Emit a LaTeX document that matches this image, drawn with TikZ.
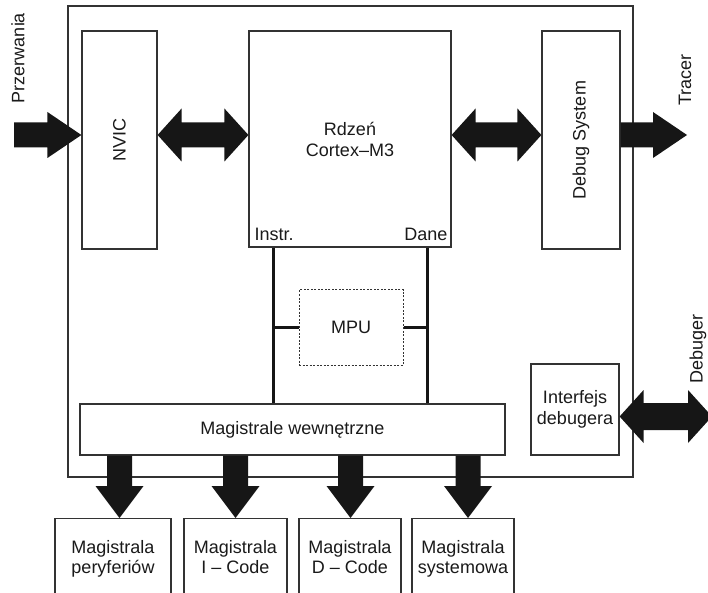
\documentclass[tikz,border=0pt]{standalone}
\usepackage{fontspec}
\setmainfont{Liberation Sans}
\usetikzlibrary{calc}
\definecolor{ln}{HTML}{333333}
\definecolor{fatc}{HTML}{161616}
\definecolor{txt}{HTML}{1A1A1A}
\newcommand\twolines[2]{\begin{tabular}[t]{@{}c@{}}#1\\#2\end{tabular}}
% horizontal double arrow: start, end, shaft half, head half (head length 24)
\newcommand\fatdbl[4]{%
 \fill[fat] let \p1=#1, \p2=#2 in
 (\x1,\y1) -- (\x1+24pt,\y1+#4pt) -- (\x1+24pt,\y1+#3pt) -- (\x2-24pt,\y1+#3pt)
 -- (\x2-24pt,\y1+#4pt) -- (\x2,\y1) -- (\x2-24pt,\y1-#4pt) -- (\x2-24pt,\y1-#3pt)
 -- (\x1+24pt,\y1-#3pt) -- (\x1+24pt,\y1-#4pt) -- cycle;}
% right arrow: start, end, shaft half, head half, head length
\newcommand\fatright[5]{%
 \fill[fat] let \p1=#1, \p2=#2 in
 (\x1,\y1+#3pt) -- (\x2-#5pt,\y1+#3pt) -- (\x2-#5pt,\y1+#4pt) -- (\x2,\y1)
 -- (\x2-#5pt,\y1-#4pt) -- (\x2-#5pt,\y1-#3pt) -- (\x1,\y1-#3pt) -- cycle;}
% down arrow: start, end, shaft half, head half, head length
\newcommand\fatdown[5]{%
 \fill[fat] let \p1=#1, \p2=#2 in
 (\x1-#3pt,\y1) -- (\x1-#3pt,\y2+#5pt) -- (\x1-#4pt,\y2+#5pt) -- (\x1,\y2)
 -- (\x1+#4pt,\y2+#5pt) -- (\x1+#3pt,\y2+#5pt) -- (\x1+#3pt,\y1) -- cycle;}
\tikzset{
 box/.style={draw=ln, line width=1.2pt, fill=white, inner sep=0pt, text=txt,
   font=\fontsize{18}{21}\selectfont, align=center},
 lbl/.style={inner sep=0pt, text=txt, font=\fontsize{18}{21}\selectfont},
 fat/.style={fill=fatc},
 bus/.style={draw=fatc, line width=3pt},
 mpubox/.style={box, dash pattern=on 2pt off 1.5pt, line width=1pt},
 busbox/.style={box, anchor=north, text height=35pt, text depth=80pt,
   font=\fontsize{18}{20}\selectfont},
}
\begin{document}
\begin{tikzpicture}[x=1pt,y=1pt]
\path[use as bounding box] (0,0) rectangle (708,592);
\clip (0,0) rectangle (708,592);
\fill[white] (0,0) rectangle (708,592);

\node[box, minimum width=565pt, minimum height=471pt] (outer) at (350.5,350.5) {};
\node[box, minimum width=75pt, minimum height=218pt] (nvic) at (119.5,452) {\rotatebox{90}{NVIC}};
\node[box, minimum width=202pt, minimum height=216pt] (core) at (350,453) {Rdzeń\\Cortex–M3};
\node[box, minimum width=78pt, minimum height=218pt] (dbg) at (581,452) {\rotatebox{90}{Debug System}};
\node[mpubox, minimum width=104pt, minimum height=75pt] (mpu) at (351,264.5) {MPU};
\node[box, minimum width=425pt, minimum height=51pt] (mag) at (292.5,162.5) {Magistrale wewnętrzne};
\node[box, minimum width=88pt, minimum height=91pt] (intf) at (575,182.5) {Interfejs\\debugera};

\node[busbox, minimum width=116pt] (b1) at (113,74) {\twolines{Magistrala}{peryferiów}};
\node[busbox, minimum width=103pt] (b2) at (235.5,74) {\twolines{Magistrala}{I – Code}};
\node[busbox, minimum width=102pt] (b3) at (350,74) {\twolines{Magistrala}{D – Code}};
\node[busbox, minimum width=102pt] (b4) at (463,74) {\twolines{Magistrala}{systemowa}};

\node[lbl, anchor=base west] (instr) at ($(core.south west)+(6,7)$) {Instr.};
\node[lbl, anchor=base east] (dane) at ($(core.south east)+(-4,7)$) {Dane};

\node[lbl, rotate=90] (przerw) at (18,534) {Przerwania};
\node[lbl, rotate=90] (tracer) at (685,512) {Tracer};
\node[lbl, rotate=90] (debuger) at (698,243) {Debuger};

% internal buses
\draw[bus] (core.south -| 273,0) -- (mag.north -| 273,0);
\draw[bus] (core.south -| 427,0) -- (mag.north -| 427,0);
\draw[bus] (mpu.west) -- (mpu.west -| 273,0);
\draw[bus] (mpu.east) -- (mpu.east -| 427,0);

% fat arrows
\coordinate (irqin) at (14,457);
\coordinate (trout) at (687,457);
\coordinate (dbgout) at (712,175.5);
\fatright{(irqin)}{(nvic.west |- irqin)}{12.5}{23}{34}
\fatdbl{(nvic.east |- irqin)}{(core.west |- irqin)}{12.5}{26.5}
\fatdbl{(core.east |- irqin)}{(dbg.west |- irqin)}{12.5}{26.5}
\fatright{(dbg.east |- irqin)}{(trout)}{12.5}{23}{34}
\fatdbl{(intf.east |- dbgout)}{(dbgout)}{13.5}{26.5}

\fatdown{(mag.south -| 119.5,0)}{(b1.north -| 119.5,0)}{12.5}{24}{32}
\fatdown{(mag.south -| 235.5,0)}{(b2.north -| 235.5,0)}{12.5}{24}{32}
\fatdown{(mag.south -| 350.5,0)}{(b3.north -| 350.5,0)}{12.5}{24}{32}
\fatdown{(mag.south -| 468,0)}{(b4.north -| 468,0)}{12.5}{24}{32}
\end{tikzpicture}
\end{document}
